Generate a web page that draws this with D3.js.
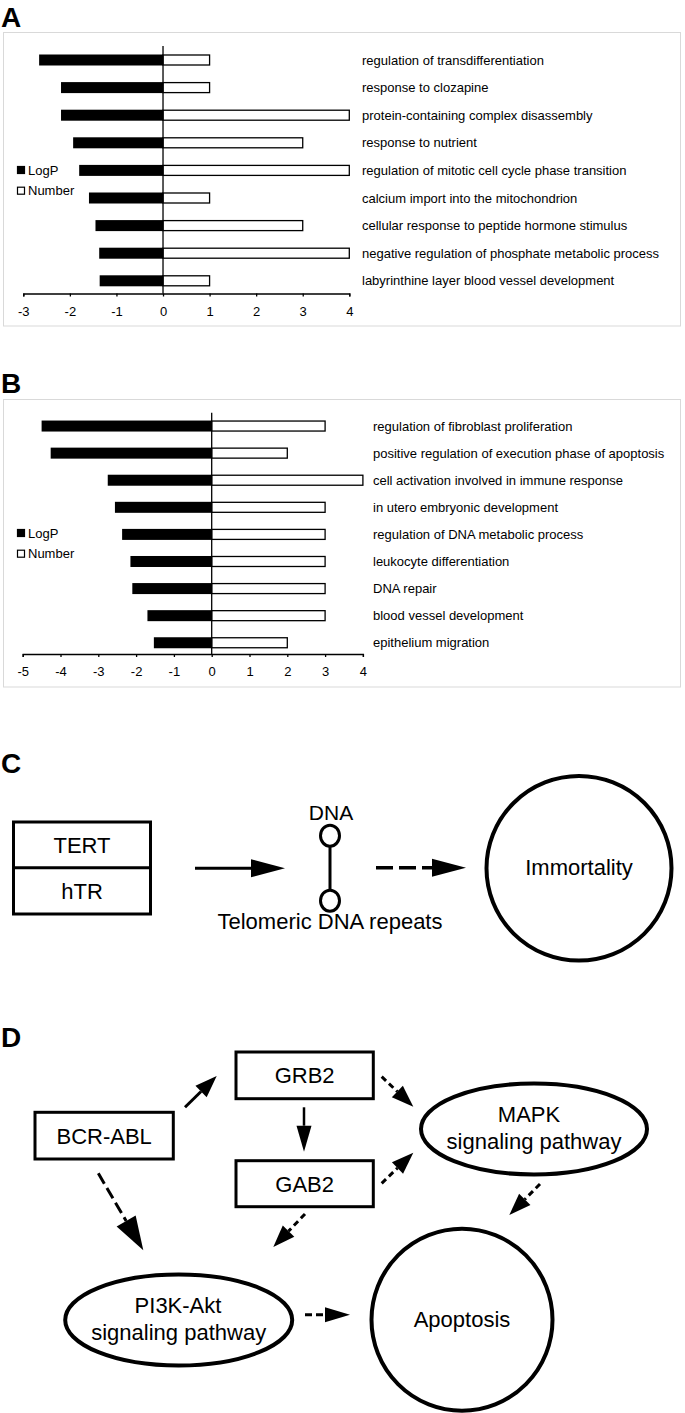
<!DOCTYPE html>
<html>
<head>
<meta charset="utf-8">
<script src="https://cdn.jsdelivr.net/npm/d3@7"></script>
<style>
  body { margin: 0; background: #fff; }
  svg { display: block; font-family: "Liberation Sans", Arial, sans-serif; }
</style>
</head>
<body>
<div id="fig"></div>
<script>
// ---- data ----
var termsA = ["regulation of transdifferentiation", "response to clozapine", "protein-containing complex disassembly",
  "response to nutrient", "regulation of mitotic cell cycle phase transition", "calcium import into the mitochondrion",
  "cellular response to peptide hormone stimulus", "negative regulation of phosphate metabolic process",
  "labyrinthine layer blood vessel development"];
var logpA = [-2.66, -2.19, -2.19, -1.93, -1.80, -1.59, -1.45, -1.37, -1.36];
var numberA = [1, 1, 4, 3, 4, 1, 3, 4, 1];
var ticksA = [-3, -2, -1, 0, 1, 2, 3, 4];

var termsB = ["regulation of fibroblast proliferation", "positive regulation of execution phase of apoptosis",
  "cell activation involved in immune response", "in utero embryonic development", "regulation of DNA metabolic process",
  "leukocyte differentiation", "DNA repair", "blood vessel development", "epithelium migration"];
var logpB = [-4.50, -4.26, -2.75, -2.56, -2.37, -2.15, -2.10, -1.70, -1.53];
var numberB = [3, 2, 4, 3, 3, 3, 3, 3, 2];
var ticksB = [-5, -4, -3, -2, -1, 0, 1, 2, 3, 4];

var legendNames = ["LogP", "Number"];

var svg = d3.select('#fig').append('svg')
  .attr('width', 685)
  .attr('height', 1413);

// panel letters
var letters = [["A", 1, 27], ["B", 1, 393], ["C", 1, 773], ["D", 1, 1047]];
svg.selectAll('text.letter').data(letters).enter().append('text')
  .attr('class', 'letter')
  .attr('x', function(d){ return d[1]; })
  .attr('y', function(d){ return d[2]; })
  .attr('font-size', 28)
  .attr('font-weight', 'bold')
  .text(function(d){ return d[0]; });

///////////////////
// Bar panels    //
///////////////////

function barPanel(cfg, terms, logp, number, ticks){
  var g = svg.append('g');

  g.append('rect')
    .attr('x', 3.5).attr('y', cfg.boxTop)
    .attr('width', 677).attr('height', cfg.boxBottom - cfg.boxTop)
    .attr('fill', 'none').attr('stroke', '#d9d9d9');

  var x = d3.scaleLinear().domain([ticks[0], ticks[ticks.length - 1]]).range(cfg.xRange);
  var y = d3.scalePoint().domain(terms).range(cfg.yRange).padding(0.5);
  var bh = 11;

  g.selectAll('rect.logp').data(logp).enter().append('rect')
    .attr('x', function(d){ return x(d); })
    .attr('y', function(d, i){ return y(terms[i]) - bh / 2; })
    .attr('width', function(d){ return x(0) - x(d); })
    .attr('height', bh)
    .attr('fill', '#000');

  g.selectAll('rect.num').data(number).enter().append('rect')
    .attr('x', x(0))
    .attr('y', function(d, i){ return y(terms[i]) - bh / 2 + 0.5; })
    .attr('width', function(d){ return x(d) - x(0); })
    .attr('height', bh - 1)
    .attr('fill', '#fff')
    .attr('stroke', '#000')
    .attr('stroke-width', 1.3);

  // zero line
  g.append('line')
    .attr('x1', x(0)).attr('x2', x(0))
    .attr('y1', cfg.zeroTop).attr('y2', cfg.axisY)
    .attr('stroke', '#000').attr('stroke-width', 1.3);

  var axis = g.append('g')
    .attr('transform', 'translate(0,' + cfg.axisY + ')')
    .call(d3.axisBottom(x).tickValues(ticks).tickSize(3).tickPadding(10)
      .tickFormat(function(d){ return String(d); }));
  axis.selectAll('path, line').attr('stroke', '#000').attr('stroke-width', 1.3);
  axis.selectAll('text').attr('font-size', 13).attr('font-family', '"Liberation Sans", Arial, sans-serif').attr('fill', '#000');

  // category labels
  g.selectAll('text.term').data(terms).enter().append('text')
    .attr('x', cfg.labelX)
    .attr('y', function(d){ return y(d); })
    .attr('dy', '0.35em')
    .attr('font-size', 13)
    .text(function(d){ return d; });

  // legend
  var lg = g.selectAll('g.leg').data(legendNames).enter().append('g')
    .attr('transform', function(d, i){ return 'translate(17,' + (cfg.legendY + i * 20.7) + ')'; });
  lg.append('rect')
    .attr('x', 0.5).attr('y', -3.5).attr('width', 7).attr('height', 7)
    .attr('fill', function(d, i){ return i === 0 ? '#000' : '#fff'; })
    .attr('stroke', '#000').attr('stroke-width', 1.2);
  lg.append('text')
    .attr('x', 11).attr('dy', '0.35em')
    .attr('font-size', 13)
    .text(function(d){ return d; });
}

barPanel({boxTop: 32.5, boxBottom: 326, xRange: [23.3, 349.3], yRange: [46.2, 294.6],
  zeroTop: 46, axisY: 293.5, labelX: 362, legendY: 170}, termsA, logpA, numberA, ticksA);

barPanel({boxTop: 399.5, boxBottom: 687, xRange: [22.7, 362.9], yRange: [412.5, 656.3],
  zeroTop: 412.7, axisY: 654, labelX: 373, legendY: 533}, termsB, logpB, numberB, ticksB);

///////////////////
// Diagrams      //
///////////////////

function arrow(x1, y1, x2, y2, o){
  var ang = Math.atan2(y2 - y1, x2 - x1);
  var hl = o.head, hw = o.hw;
  var bx = x2 - hl * Math.cos(ang), by = y2 - hl * Math.sin(ang);
  svg.append('line')
    .attr('x1', x1).attr('y1', y1).attr('x2', bx).attr('y2', by)
    .attr('stroke', '#000').attr('stroke-width', o.sw || 3)
    .attr('stroke-dasharray', o.dash || null);
  var px = -Math.sin(ang) * hw, py = Math.cos(ang) * hw;
  svg.append('path')
    .attr('d', 'M' + x2 + ',' + y2 + 'L' + (bx + px) + ',' + (by + py) + 'L' + (bx - px) + ',' + (by - py) + 'Z')
    .attr('fill', '#000');
}

function label(txt, x, y, size){
  svg.append('text')
    .attr('x', x).attr('y', y)
    .attr('text-anchor', 'middle')
    .attr('font-size', size || 22)
    .text(txt);
}

// ---- C ----
svg.append('rect').attr('x', 13.5).attr('y', 822).attr('width', 137).attr('height', 92)
  .attr('fill', 'none').attr('stroke', '#000').attr('stroke-width', 3);
svg.append('line').attr('x1', 13.5).attr('x2', 150.5).attr('y1', 867.7).attr('y2', 867.7)
  .attr('stroke', '#000').attr('stroke-width', 3);
label('TERT', 82, 852.5, 22);
label('hTR', 82, 898.5, 22);

arrow(195, 868.3, 285, 868.3, {head: 34, hw: 9, sw: 3});

svg.append('line').attr('x1', 330).attr('x2', 330).attr('y1', 846).attr('y2', 890)
  .attr('stroke', '#000').attr('stroke-width', 3);
svg.selectAll('ellipse.dna').data([835.7, 900.7]).enter().append('ellipse')
  .attr('cx', 330).attr('cy', function(d){ return d; })
  .attr('rx', 9.5).attr('ry', 10.5)
  .attr('fill', '#fff').attr('stroke', '#000').attr('stroke-width', 3);
label('DNA', 331, 819.5, 21);
label('Telomeric DNA repeats', 330, 928.5, 22);

arrow(376, 867.8, 466, 867.8, {head: 34, hw: 9, sw: 3.5, dash: '17,6'});

svg.append('ellipse').attr('cx', 579).attr('cy', 868.3).attr('rx', 92.5).attr('ry', 92.3)
  .attr('fill', 'none').attr('stroke', '#000').attr('stroke-width', 4);
label('Immortality', 579, 874.5, 22);

// ---- D ----
var boxesD = [["BCR-ABL", 35, 1112.3, 138.3, 46.7], ["GRB2", 236, 1052, 137.3, 46.7], ["GAB2", 236, 1160.7, 137.3, 46]];
boxesD.forEach(function(b){
  svg.append('rect').attr('x', b[1]).attr('y', b[2]).attr('width', b[3]).attr('height', b[4])
    .attr('fill', 'none').attr('stroke', '#000').attr('stroke-width', 3);
  label(b[0], b[1] + b[3] / 2, b[2] + b[4] / 2 + 8, 22);
});

svg.append('ellipse').attr('cx', 534).attr('cy', 1129).attr('rx', 113).attr('ry', 45.5)
  .attr('fill', 'none').attr('stroke', '#000').attr('stroke-width', 4);
label('MAPK', 529, 1121.5, 22);
label('signaling pathway', 534, 1148.5, 22);

svg.append('ellipse').attr('cx', 178.7).attr('cy', 1320).attr('rx', 113.5).attr('ry', 45.5)
  .attr('fill', 'none').attr('stroke', '#000').attr('stroke-width', 4);
label('PI3K-Akt', 178, 1312.5, 22);
label('signaling pathway', 178.7, 1339.5, 22);

svg.append('ellipse').attr('cx', 462).attr('cy', 1319.7).attr('rx', 90.5).attr('ry', 91)
  .attr('fill', 'none').attr('stroke', '#000').attr('stroke-width', 4);
label('Apoptosis', 462, 1327, 22);

arrow(185, 1107.3, 216.7, 1076, {head: 22, hw: 8, sw: 3});
arrow(304, 1107.3, 304, 1151.7, {head: 26, hw: 7.5, sw: 2.5});
arrow(98.3, 1173.3, 143.3, 1250.3, {head: 34, hw: 11, sw: 3, dash: '12,5'});
arrow(381.7, 1076.7, 413.3, 1106.7, {head: 22, hw: 8, sw: 3, dash: '6,4'});
arrow(381.7, 1183.3, 413.3, 1152.7, {head: 22, hw: 8, sw: 3, dash: '6,4'});
arrow(540, 1184, 509.3, 1215, {head: 22, hw: 8, sw: 3, dash: '6,4'});
arrow(305, 1214, 273.3, 1247, {head: 22, hw: 8, sw: 3, dash: '6,4'});
arrow(305, 1314.7, 350, 1314.7, {head: 25, hw: 7.5, sw: 3, dash: '7,4'});
</script>
</body>
</html>
